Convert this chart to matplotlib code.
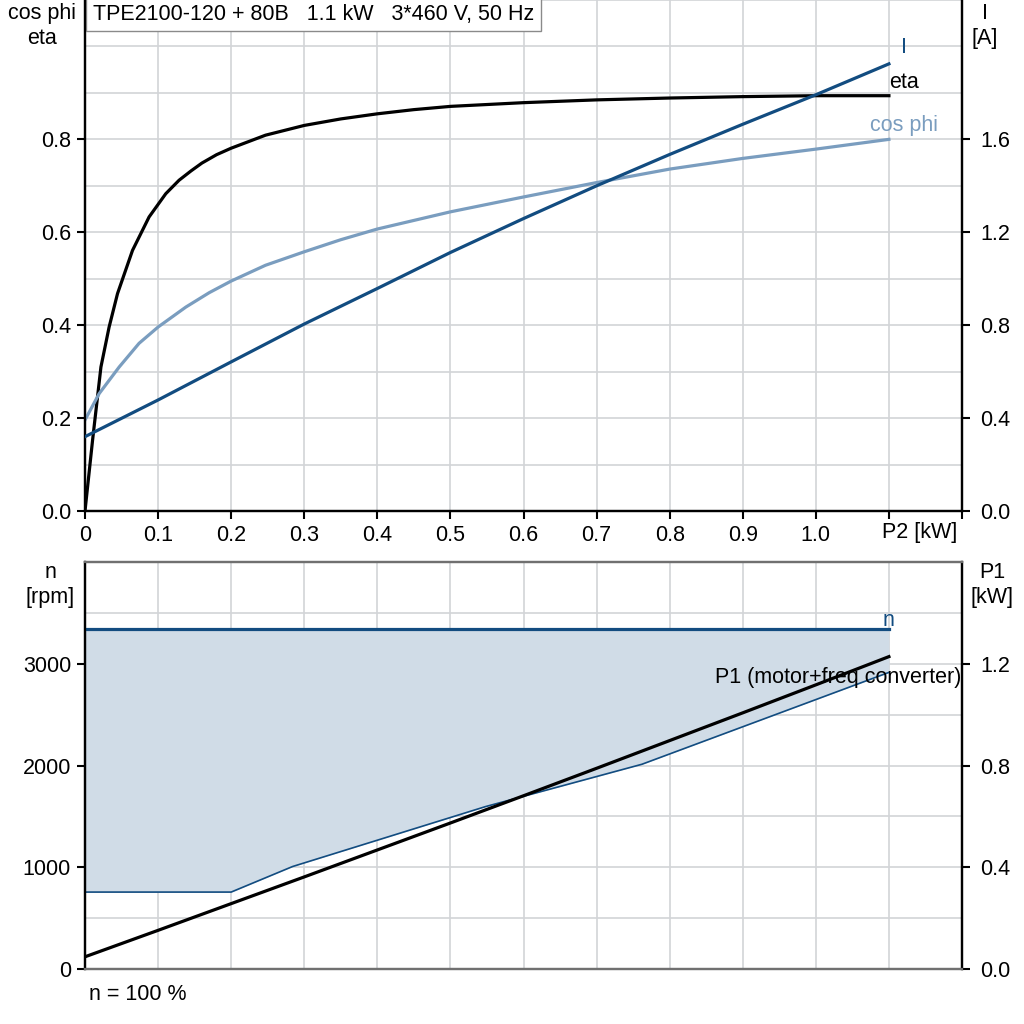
import matplotlib
matplotlib.use('Agg')
import matplotlib.pyplot as plt
import numpy as np

plt.rcParams['font.family'] = ['Liberation Sans', 'DejaVu Sans']

# --- top panel data (P2 in kW) ---
eta_p2 = [0, 0.0104, 0.0218, 0.033, 0.0445, 0.065, 0.0877, 0.1105, 0.1287, 0.145, 0.16,
          0.18, 0.2, 0.247, 0.3, 0.35, 0.4, 0.45, 0.5, 0.6, 0.7, 0.8, 0.9, 1.0, 1.1]
eta = [0, 0.153, 0.31, 0.396, 0.468, 0.561, 0.633, 0.683, 0.712, 0.732, 0.749,
       0.767, 0.781, 0.809, 0.830, 0.844, 0.855, 0.864, 0.871, 0.879, 0.885, 0.889, 0.892, 0.894, 0.894]

cos_p2 = [0, 0.0195, 0.0468, 0.074, 0.1, 0.138, 0.17, 0.2, 0.247, 0.3, 0.35, 0.4, 0.5, 0.6,
          0.7, 0.8, 0.9, 1.0, 1.1]
cos_phi = [0.196, 0.253, 0.310, 0.361, 0.396, 0.439, 0.470, 0.495, 0.529, 0.558, 0.584, 0.607,
           0.644, 0.676, 0.707, 0.736, 0.759, 0.779, 0.80]

i_p2 = [0, 0.1, 0.2, 0.3, 0.4, 0.5, 0.6, 0.7, 0.8, 0.9, 1.0, 1.1]
current = [0.32, 0.478, 0.642, 0.805, 0.958, 1.113, 1.259, 1.40, 1.535, 1.665, 1.792, 1.925]

# --- bottom panel data ---
n_p2 = [0, 1.1]
n_rpm = [3345, 3345]
nmin_p2 = [0, 0.2, 0.284, 0.548, 0.762, 1.1]
nmin_rpm = [756, 756, 1007, 1596, 2012, 2915]

p1_p2 = [0, 0.1, 0.2, 0.3, 0.4, 0.5, 0.6, 0.7, 0.8, 0.9, 1.0, 1.1]
p1 = [0.048, 0.152, 0.257, 0.362, 0.468, 0.574, 0.681, 0.789, 0.898, 1.007, 1.117, 1.228]

x_ticks = [0, 0.1, 0.2, 0.3, 0.4, 0.5, 0.6, 0.7, 0.8, 0.9, 1.0, 1.1, 1.2]
x_labels = ['0', '0.1', '0.2', '0.3', '0.4', '0.5', '0.6', '0.7', '0.8', '0.9', '1.0', '', '']

dark = '#124c80'
light = '#7a9dbf'
fillc = '#d0dce7'
gridc = '#d2d4d7'
fs = 15.5

fig = plt.figure(figsize=(10.24, 10.24), dpi=100)
W, H = 1024, 1024
ax1 = fig.add_axes([85 / W, 1 - 511 / H, 877 / W, 511 / H])
ax2 = fig.add_axes([85 / W, 1 - 969 / H, 877 / W, 407 / H])

# top panel
ax1.set_xlim(0, 1.2)
ax1.set_ylim(0, 1.1)
ax1.set_xticks(x_ticks)
ax1.set_xticklabels(x_labels)
ax1.set_yticks([0, 0.2, 0.4, 0.6, 0.8])
ax1.set_yticklabels(['0.0', '0.2', '0.4', '0.6', '0.8'])
ax1.set_yticks(np.arange(0, 1.15, 0.1), minor=True)
ax1.grid(which='both', color=gridc, linewidth=1.2)
ax1.set_axisbelow(True)
ax1.tick_params(which='minor', length=0)
ax1.tick_params(which='major', length=6, width=1.5, labelsize=fs, pad=4)
ax1.spines['top'].set_visible(False)
for s in ['left', 'bottom', 'right']:
    ax1.spines[s].set_linewidth(1.6)
ax1.plot(eta_p2, eta, color='black', lw=2.3, zorder=3)
ax1.plot(cos_p2, cos_phi, color=light, lw=2.3, zorder=3)

# x axis name sits where the 1.1 label would be, shifted right
ax1.text(0.1 * (882 - 85) / 73.1, -0.042, 'P2 [kW]', fontsize=fs, ha='left', va='center',
         transform=ax1.get_xaxis_transform())

ax1r = ax1.twinx()
ax1r.set_ylim(0, 2.2)
ax1r.set_yticks([0, 0.4, 0.8, 1.2, 1.6])
ax1r.set_yticklabels(['0.0', '0.4', '0.8', '1.2', '1.6'])
ax1r.tick_params(length=6, width=1.5, labelsize=fs, pad=7)
ax1r.spines['top'].set_visible(False)
for s in ['left', 'bottom', 'right']:
    ax1r.spines[s].set_linewidth(1.6)
ax1r.plot(i_p2, current, color=dark, lw=2.3, zorder=3)

ax1.text(1.12, 0.997, 'I', color=dark, fontsize=fs, ha='center', va='center')
ax1.text(1.12, 0.923, 'eta', color='black', fontsize=fs, ha='center', va='center')
ax1.text(1.12, 0.829, 'cos phi', color=light, fontsize=fs, ha='center', va='center')

ax1.text(0.009, 0.993, 'TPE2100-120 + 80B   1.1 kW   3*460 V, 50 Hz', transform=ax1.transAxes,
         fontsize=fs, ha='left', va='top', zorder=10,
         bbox=dict(boxstyle='square,pad=0.3', facecolor='white', edgecolor='#8a8a8a', linewidth=1))

# bottom panel
ax2.set_xlim(0, 1.2)
ax2.set_ylim(0, 4000)
ax2.set_xticks(x_ticks)
ax2.set_xticklabels([])
ax2.set_yticks([0, 1000, 2000, 3000])
ax2.set_yticks(np.arange(0, 4001, 500), minor=True)
ax2.grid(which='both', color=gridc, linewidth=1.2)
ax2.set_axisbelow(True)
ax2.tick_params(axis='x', length=0)
ax2.tick_params(axis='y', which='minor', length=0)
ax2.tick_params(axis='y', which='major', length=6, width=1.5, labelsize=fs, pad=4)
ax2.fill_between(nmin_p2, nmin_rpm, n_rpm[0], color=fillc, lw=0, zorder=1)
ax2.plot(nmin_p2, nmin_rpm, color=dark, lw=1.2, zorder=2)
ax2.plot(n_p2, n_rpm, color=dark, lw=2.3, zorder=3)

ax2r = ax2.twinx()
ax2r.set_ylim(0, 1.6)
ax2r.set_yticks([0, 0.4, 0.8, 1.2])
ax2r.set_yticklabels(['0.0', '0.4', '0.8', '1.2'])
ax2r.tick_params(length=6, width=1.5, labelsize=fs, pad=7)
ax2r.plot(p1_p2, p1, color='black', lw=2.3, zorder=3)

for a in (ax2, ax2r):
    a.spines['left'].set_linewidth(1.6)
    a.spines['right'].set_linewidth(1.6)
    a.spines['top'].set_color('#707070')
    a.spines['bottom'].set_color('#707070')
    a.spines['top'].set_linewidth(1.6)
    a.spines['bottom'].set_linewidth(1.6)

ax2.text(1.1, 3429, 'n', color=dark, fontsize=fs, ha='center', va='center')
ax2.text(1.03, 2860, 'P1 (motor+freq converter)', color='black', fontsize=fs, ha='center', va='center')

# axis titles
fig.text(42 / W, 1 - 26 / H, 'cos phi\neta', fontsize=fs, ha='center', va='center', multialignment='center')
fig.text(985 / W, 1 - 26 / H, 'I\n[A]', fontsize=fs, ha='center', va='center', multialignment='center')
fig.text(50 / W, 1 - 585 / H, 'n\n[rpm]', fontsize=fs, ha='center', va='center', multialignment='center')
fig.text(992 / W, 1 - 585 / H, 'P1\n[kW]', fontsize=fs, ha='center', va='center', multialignment='center')
fig.text(89 / W, 1 - 995 / H, 'n = 100 %', fontsize=fs, ha='left', va='center')

fig.savefig('out.png', dpi=100)
